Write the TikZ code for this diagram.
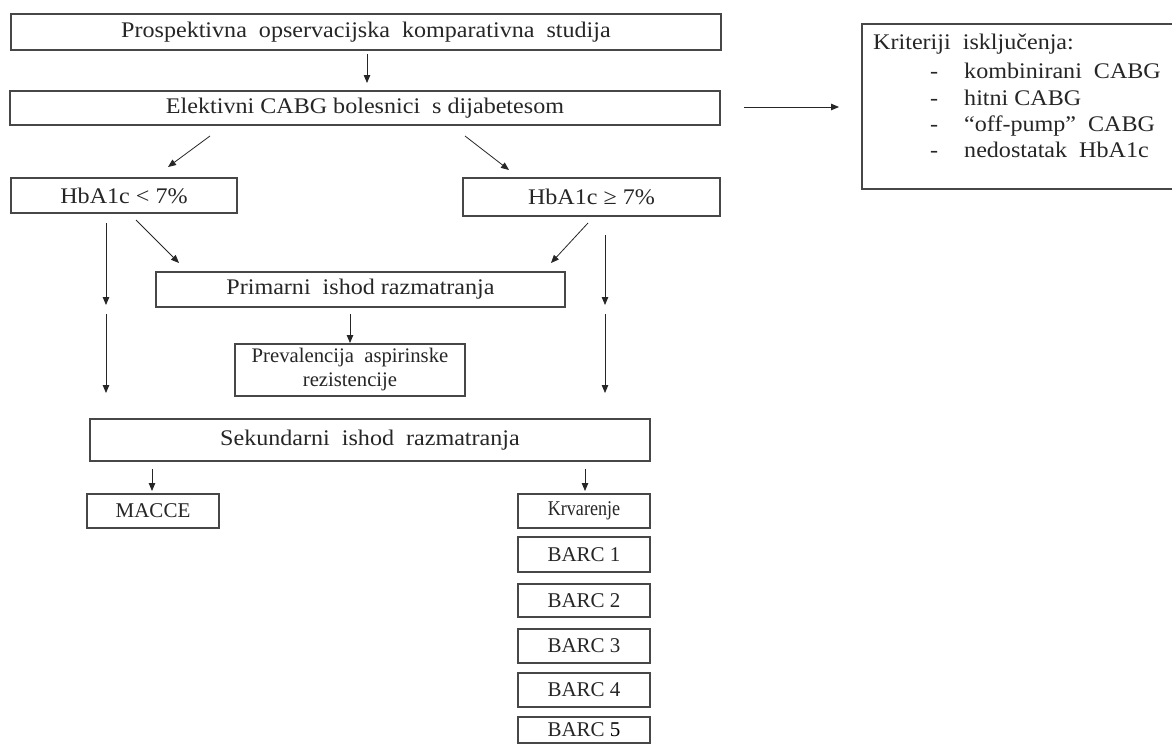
\documentclass[tikz,border=0pt]{standalone}
\usepackage{fontspec}
\setmainfont{Liberation Serif}[FakeStretch=1.08]
\newfontfamily\plainserif{Liberation Serif}
\usetikzlibrary{arrows.meta}
\newcommand{\mainfs}{\fontsize{22.3}{24}\selectfont}
\newcommand{\smallfs}{\plainserif\fontsize{21}{24}\selectfont}
\begin{document}
\begin{tikzpicture}[x=1pt,y=-1pt,
  box/.style={draw=black!72, line width=1.4pt, inner sep=0pt, text=black!85,
    font=\mainfs, align=center},
  sbox/.style={box, font=\smallfs},
  arr/.style={draw=black!85, line width=0.8pt, -{Triangle[length=8pt,width=6.5pt]}},
  txt/.style={inner sep=0pt, anchor=base west, text=black!85, font=\mainfs}]
\useasboundingbox[fill=white] (0,0) rectangle (1172,744);

% boxes
\node[box, minimum width=710pt, minimum height=36pt] (top) at (366,32)
  {Prospektivna\ \ opservacijska\ \ komparativna\ \ studija};
\node[box, minimum width=710pt, minimum height=34pt] (el) at (365,108)
  {Elektivni CABG bolesnici\ \ s dijabetesom};
\node[box, minimum width=318pt, minimum height=165pt] (krit) at (1021,106.5) {};
\node[box, minimum width=226pt, minimum height=35pt] (lt) at (124,195.5) {HbA1c < 7\%};
\node[box, minimum width=257pt, minimum height=38pt] (ge) at (591.5,197) {HbA1c ≥ 7\%};
\node[box, minimum width=409pt, minimum height=35pt] (prim) at (360.5,289.5)
  {Primarni\ \ ishod razmatranja};
\node[sbox, minimum width=230pt, minimum height=52pt, font=\plainserif\fontsize{20.7}{24}\selectfont] (prev) at (350,370)
  {Prevalencija\ \ aspirinske\\rezistencije};
\node[box, minimum width=560pt, minimum height=42pt] (sek) at (370,440)
  {Sekundarni\ \ ishod\ \ razmatranja};
\node[sbox, minimum width=132pt, minimum height=34pt] (macce) at (153,511) {MACCE};
\node[sbox, minimum width=132pt, minimum height=34pt] (krv) at (584,511) {\scalebox{0.86}[1]{Krvarenje}};
\node[sbox, minimum width=132pt, minimum height=35pt] (b1) at (584,554.5) {BARC 1};
\node[sbox, minimum width=132pt, minimum height=33pt] (b2) at (584,600.5) {BARC 2};
\node[sbox, minimum width=132pt, minimum height=34pt] (b3) at (584,646) {BARC 3};
\node[sbox, minimum width=132pt, minimum height=34pt] (b4) at (584,690) {BARC 4};
\node[sbox, minimum width=132pt, minimum height=26pt] (b5) at (584,730) {BARC {\color{black}5}};

% criteria text
\node[txt] (k0) at (873,49) {Kriteriji\ \ isključenja:};
\node[txt] (d1) at (930,78) {-};
\node[txt] (d2) at (930,105) {-};
\node[txt] (d3) at (930,131) {-};
\node[txt] (d4) at (930,157) {-};
\node[txt] (k1) at (964,78) {kombinirani\ \ CABG};
\node[txt] (k2) at (964,105) {hitni CABG};
\node[txt] (k3) at (964,131) {“off-pump”\ \ CABG};
\node[txt] (k4) at (964,157) {nedostatak\ \ HbA1c};

% arrow end points
\coordinate (a1s) at (367,54);  \coordinate (a1e) at (367,83);
\coordinate (a2s) at (744,107); \coordinate (a2e) at (839,107);
\coordinate (a3s) at (210,136); \coordinate (a3e) at (168,167);
\coordinate (a4s) at (465,136); \coordinate (a4e) at (509,170);
\coordinate (a5s) at (106,223); \coordinate (a5e) at (106,305);
\coordinate (a6s) at (106,314); \coordinate (a6e) at (106,393);
\coordinate (a7s) at (136,220); \coordinate (a7e) at (179,263);
\coordinate (a8s) at (588,223); \coordinate (a8e) at (551,263);
\coordinate (a9s) at (605,235); \coordinate (a9e) at (605,305);
\coordinate (a10s) at (605,314); \coordinate (a10e) at (605,393);
\coordinate (a11s) at (350,314); \coordinate (a11e) at (350,343);
\coordinate (a12s) at (152,469); \coordinate (a12e) at (152,491);
\coordinate (a13s) at (585,469); \coordinate (a13e) at (585,491);

\foreach \i in {1,...,13} {\draw[arr] (a\i s) -- (a\i e);}
\end{tikzpicture}
\end{document}
